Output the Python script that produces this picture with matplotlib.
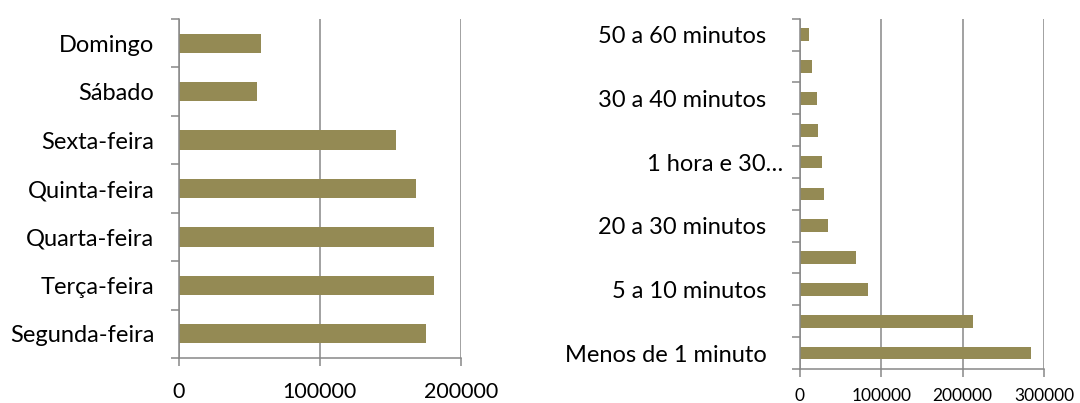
import numpy as np
import matplotlib
matplotlib.use('Agg')
import matplotlib.pyplot as plt
import matplotlib.transforms as mtransforms

plt.rcParams['font.family'] = ['Lato', 'DejaVu Sans']

# dias da semana (de baixo para cima)
dias = ['Segunda-feira', 'Terça-feira', 'Quarta-feira', 'Quinta-feira',
        'Sexta-feira', 'Sábado', 'Domingo']
dias_vals = [175400, 181000, 181000, 168500, 154100, 55300, 58400]
dias_ticks = [0, 100000, 200000]

# duração (de baixo para cima); só metade dos rótulos aparece no gráfico
duracao = ['Menos de 1 minuto', '1 a 5 minutos', '5 a 10 minutos', '10 a 20 minutos',
           '20 a 30 minutos', '1 a 2 horas', '1 hora e 30…', 'Mais de 2 horas',
           '30 a 40 minutos', '40 a 50 minutos', '50 a 60 minutos']
duracao_vals = [283700, 213000, 84000, 69300, 34000, 29500, 27000, 22600, 21300, 14800, 11500]
duracao_ticks = [0, 100000, 200000, 300000]

bar_color = '#948A54'
grid_color = '#888888'

fig = plt.figure(figsize=(10.8, 4.03), dpi=100)
ax1 = fig.add_axes([0.1655, 0.1117, 0.2611, 0.841])
ax2 = fig.add_axes([0.7407, 0.0844, 0.2259, 0.869])


def style(ax, labels, ticks, show_every, lab_size, x_size, y_pad, x_pad):
    n = len(labels)
    ax.set_xlim(ticks[0], ticks[-1])
    ax.set_ylim(-0.5, n - 0.5)
    ax.set_xticks(ticks)
    ax.set_xticklabels([str(t) for t in ticks], fontsize=x_size)
    ax.grid(axis='x', color=grid_color, lw=1.1)
    ax.set_axisbelow(True)
    for s in ['top', 'right']:
        ax.spines[s].set_visible(False)
    for s in ['left', 'bottom']:
        ax.spines[s].set_color(grid_color)
        ax.spines[s].set_linewidth(1.1)
    # ticks nas fronteiras das categorias, rótulos no centro
    ax.set_yticks(np.arange(n + 1) - 0.5)
    ax.set_yticklabels([])
    ax.set_yticks(np.arange(n), minor=True)
    ax.set_yticklabels([l if i % show_every == 0 else '' for i, l in enumerate(labels)],
                       minor=True, fontsize=lab_size)
    ax.tick_params(axis='y', which='major', length=6, width=1.1, color=grid_color)
    ax.tick_params(axis='y', which='minor', length=0, pad=y_pad)
    ax.tick_params(axis='x', length=6, width=1.1, color=grid_color, pad=x_pad)


ax1.barh(np.arange(len(dias)), dias_vals, height=0.4, color=bar_color)
style(ax1, dias, dias_ticks, 1, 17, 15.5, 17.5, 11)

ax2.barh(np.arange(len(duracao)), duracao_vals, height=0.4, color=bar_color)
style(ax2, duracao, duracao_ticks, 2, 17, 12.5, 24, 8)

# o rótulo truncado fica mais perto do eixo
for t in ax2.yaxis.get_minorticklabels():
    if t.get_text().endswith('…'):
        t.set_transform(t.get_transform() + mtransforms.ScaledTranslation(17 / 100, 0, fig.dpi_scale_trans))

fig.savefig('out.png', dpi=100)
